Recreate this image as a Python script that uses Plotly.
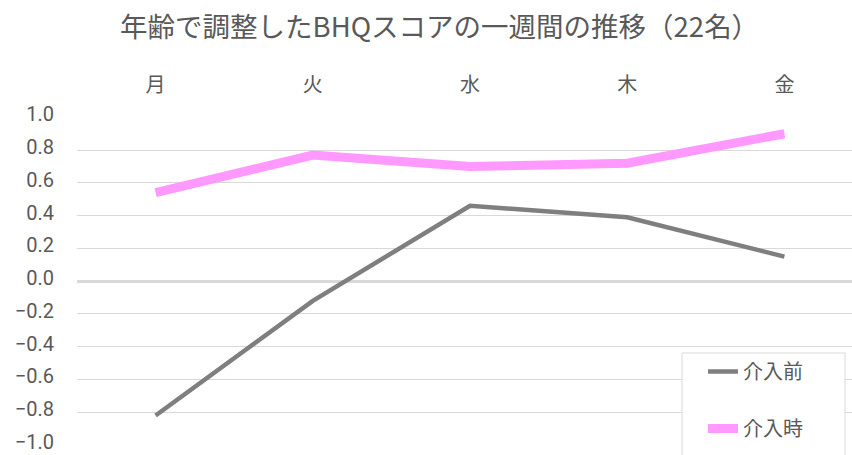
import plotly.graph_objects as go

days = ["月", "火", "水", "木", "金"]
before_vals = [-0.82, -0.12, 0.46, 0.39, 0.15]
during_vals = [0.54, 0.77, 0.70, 0.72, 0.90]
y_ticks = [1.0, 0.8, 0.6, 0.4, 0.2, 0.0, -0.2, -0.4, -0.6, -0.8, -1.0]

FONT = "Noto Sans CJK JP"
TXT = "#595959"

L, T, B, W, H = 77, 117, 9, 852, 455
PW, PH = W - L, H - T - B


def px_x(p):
    return (p - L) / PW


def px_y(p):
    return (H - B - p) / PH


fig = go.Figure()
fig.add_trace(go.Scatter(x=days, y=before_vals, mode="lines", name="介入前",
                         line=dict(color="#7f7f7f", width=4.5),
                         legendgroup="a"))
fig.add_trace(go.Scatter(x=days, y=during_vals, mode="lines", name="介入時",
                         line=dict(color="#ff99ff", width=9),
                         legendgroup="b"))

fig.update_layout(
    width=W, height=H,
    margin=dict(l=L, r=0, t=T, b=B, autoexpand=False),
    paper_bgcolor="white", plot_bgcolor="white",
    font=dict(family=FONT, color=TXT, size=19),
    title=dict(text="年齢で調整したBHQスコアの一週間の推移（22名）",
               x=0.516, xanchor="center", xref="container",
               y=1 - 27 / H, yanchor="middle", yref="container",
               font=dict(family=FONT, size=27.5, color=TXT)),
    showlegend=True,
    legend=dict(x=px_x(703), y=px_y(352), xanchor="left", yanchor="top",
                bgcolor="rgba(0,0,0,0)", borderwidth=0,
                font=dict(family=FONT, size=20, color=TXT),
                tracegroupgap=28, traceorder="grouped",
                itemwidth=30),
    shapes=[dict(type="rect", xref="paper", yref="paper",
                 x0=px_x(682), x1=px_x(845), y0=px_y(470), y1=px_y(353),
                 fillcolor="white", line=dict(color="#d9d9d9", width=1),
                 layer="above")],
)
fig.update_xaxes(type="category", side="top", range=[-0.5, 4.43],
                 showgrid=False, showline=False, zeroline=False,
                 ticks="", ticklabelstandoff=20, automargin=False,
                 tickfont=dict(family=FONT, size=20, color=TXT))
fig.update_yaxes(range=[-1.006, 1.002], tickvals=y_ticks, tickformat=".1f",
                 showgrid=True, gridcolor="#d9d9d9", gridwidth=1,
                 zeroline=True, zerolinecolor="#d9d9d9", zerolinewidth=3,
                 showline=False, ticks="", ticklabelstandoff=22,
                 ticklabelshift=-3,
                 ticklabeloverflow="allow", automargin=False,
                 tickfont=dict(family="Roboto", size=20, color=TXT))

fig.write_html("out.html")
